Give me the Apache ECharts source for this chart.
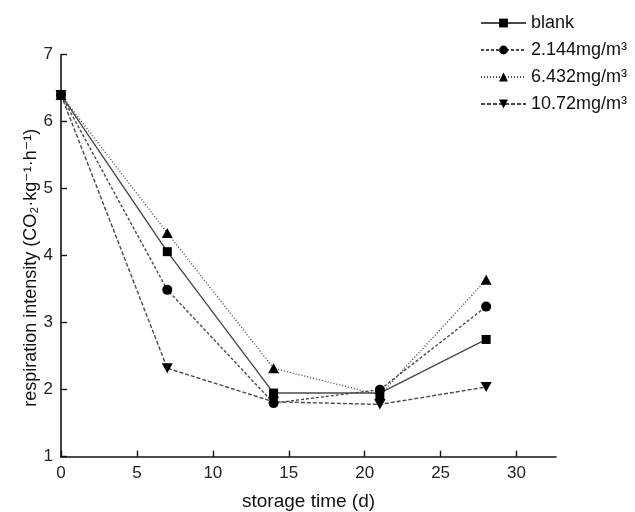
<!DOCTYPE html>
<html>
<head>
<meta charset="utf-8">
<script src="https://cdn.jsdelivr.net/npm/echarts@6/dist/echarts.min.js"></script>
<style>html,body{margin:0;padding:0;background:#fff}#c{width:635px;height:512px}</style>
</head>
<body>
<div id="c"></div>
<script>
var days = [0, 7, 14, 21, 28];
var seriesNames = ['blank', '2.144mg/m³', '6.432mg/m³', '10.72mg/m³'];
var blank = [6.4, 4.06, 1.95, 1.95, 2.75];
var c2144 = [6.4, 3.49, 1.8, 2.0, 3.24];
var c6432 = [6.4, 4.34, 2.32, 1.92, 3.64];
var c1072 = [6.4, 2.32, 1.82, 1.78, 2.04];
var xTicks = [0, 5, 10, 15, 20, 25, 30];

var font = 'Liberation Sans, Arial, DejaVu Sans, sans-serif';
function pts(vals) { return days.map(function (d, i) { return [d, vals[i]]; }); }
var downTri = 'path://M0,0 L10,0 L5,9 Z';
var upTri = 'path://M5,0 L10,9 L0,9 Z';
var styles = [
  { data: blank, symbol: 'rect', size: 9, type: 'solid' },
  { data: c2144, symbol: 'circle', size: 10, type: [3, 2] },
  { data: c6432, symbol: upTri, size: [11, 10], type: [1, 2] },
  { data: c1072, symbol: downTri, size: [11, 10], type: [4, 2] }
];
var series = styles.map(function (s, i) {
  return {
    name: seriesNames[i], type: 'line', data: pts(s.data),
    symbol: s.symbol, symbolSize: s.size, showAllSymbol: true,
    lineStyle: { color: '#4a4a4a', width: 1.4, type: s.type },
    itemStyle: { color: '#000' }, z: 3, clip: false
  };
});
var chart = echarts.init(document.getElementById('c'), null, { renderer: 'canvas' });
chart.setOption({
  animation: false,
  backgroundColor: '#fff',
  legend: {
    orient: 'vertical', left: 475, top: 8, itemWidth: 45, itemHeight: 11, itemGap: 7,
    textStyle: { fontFamily: font, fontSize: 18, lineHeight: 20, color: '#111', padding: [0, 0, 0, 0] },
    data: seriesNames
  },
  grid: { left: 61, right: 79, top: 54.7, bottom: 55.3, containLabel: false, outerBoundsMode: 'none' },
  xAxis: {
    type: 'value', min: 0, max: 32.6,
    name: 'storage time (d)', nameLocation: 'middle', nameGap: 36, nameMoveOverlap: false,
    nameTextStyle: { fontFamily: font, fontSize: 19, color: '#111' },
    axisLine: { lineStyle: { color: '#111', width: 1.6 } },
    axisTick: { inside: true, length: 6, customValues: xTicks, lineStyle: { color: '#111', width: 1.4 } },
    axisLabel: { customValues: xTicks, fontFamily: font, fontSize: 17, color: '#222', margin: 8 },
    splitLine: { show: false }
  },
  yAxis: {
    type: 'value', min: 1, max: 7, interval: 1,
    name: 'respiration intensity (CO₂·kg⁻¹·h⁻¹)', nameLocation: 'middle', nameGap: 21, nameMoveOverlap: false,
    nameTextStyle: { fontFamily: font, fontSize: 18, color: '#111', padding: [0, 24, 0, 0] },
    axisLine: { show: true, lineStyle: { color: '#111', width: 1.6 } },
    axisTick: { show: true, inside: true, length: 6, lineStyle: { color: '#111', width: 1.4 } },
    axisLabel: { fontFamily: font, fontSize: 17, color: '#222', margin: 8 },
    splitLine: { show: false }
  },
  series: series
});
</script>
</body>
</html>
